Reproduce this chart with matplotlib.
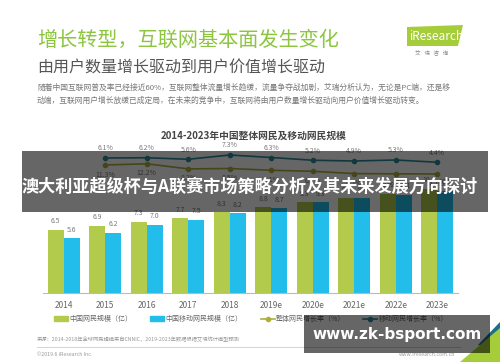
import matplotlib
matplotlib.use("Agg")
import numpy as np
import matplotlib.pyplot as plt
from matplotlib.patches import Rectangle, Polygon
from matplotlib.lines import Line2D

plt.rcParams['font.family'] = ['Noto Sans CJK SC', 'DejaVu Sans']

# data
years = ['2014', '2015', '2016', '2017', '2018', '2019e', '2020e', '2021e', '2022e', '2023e']
netizens = [6.5, 6.9, 7.3, 7.7, 8.3, 8.8, 9.3, 9.7, 10.2, 10.7]
mobile = [5.6, 6.2, 7.0, 7.5, 8.2, 8.7, 9.3, 9.7, 10.1, 10.5]
rate_top = [6.1, 6.2, 5.6, 7.3, 6.3, 5.2, 4.9, 5.3, 4.4]      # teal line, 2015-2023e
rate_low = [11.3, 12.2, 8.2, 8.5, 7.1, 6.3, 4.5, 4.3, 4.2]    # olive line, 2015-2023e

GREEN = '#B2CB4C'
BLUE = '#22BDEB'
TEAL = '#2B8C9A'
OLIVE = '#ABAE3C'
GREY = '#7a7a7a'

W, H = 500, 362
fig = plt.figure(figsize=(W / 100, H / 100), dpi=100)
fig.patch.set_facecolor('white')

def px(x, y):
    return x / W, 1 - y / H

# header
fig.text(*px(37, 40), '增长转型，互联网基本面发生变化', fontsize=14.5, color='#8CC63F',
         va='center', ha='left')
fig.text(*px(37, 68), '由用户数量增长驱动到用户价值增长驱动', fontsize=11.5, color='#555555',
         va='center', ha='left')
fig.text(*px(37, 88), '随着中国互联网普及率已经接近60%，互联网整体流量增长趋缓，流量争夺战加剧，艾瑞分析认为，无论是PC端，还是移',
         fontsize=5.6, color='#777777', va='center', ha='left')
fig.text(*px(37, 101), '动端，互联网用户增长放缓已成定局，在未来的竞争中，互联网将由用户数量增长驱动向用户价值增长驱动转变。',
         fontsize=5.6, color='#777777', va='center', ha='left')

# logo
logo = Polygon([px(407, 27), px(463, 25), px(458, 46), px(407, 46)], closed=True,
               transform=fig.transFigure, facecolor='#A5CD39', edgecolor='none')
fig.patches.append(logo)
fig.text(*px(409, 36), 'iResearch', fontsize=8.5, color='white', va='center', ha='left')
fig.text(*px(432, 52), '艾   瑞   咨   询', fontsize=4, color='#888888', va='center', ha='center')

# chart title
fig.text(*px(254, 136), '2014-2023年中国整体网民及移动网民规模', fontsize=7, fontweight='bold',
         color='#444444', va='center', ha='center')

# bars
ax = fig.add_axes([43 / W, 69 / H, 415 / W, 156 / H])
x = np.arange(len(years))
bw = 0.385
ax.bar(x - bw / 2, netizens, bw, color=GREEN, zorder=2)
ax.bar(x + bw / 2, mobile, bw, color=BLUE, zorder=2)
for xi, v in zip(x, netizens):
    ax.text(xi - bw / 2, v + 0.45, f'{v:.1f}', ha='center', va='bottom', fontsize=5, color=GREY)
for xi, v in zip(x, mobile):
    ax.text(xi + bw / 2, v + 0.45, f'{v:.1f}', ha='center', va='bottom', fontsize=5, color=GREY)
ax.set_xlim(-0.5, len(years) - 0.5)
ax.set_ylim(0, 16)
ax.set_xticks(x)
ax.set_xticklabels(years, fontsize=6, color='#666666')
ax.tick_params(axis='x', length=0, pad=6)
ax.set_yticks([])
for s in ['top', 'right', 'left']:
    ax.spines[s].set_visible(False)
ax.spines['bottom'].set_color('#bbbbbb')
ax.patch.set_alpha(0)

# growth lines on their own scales
xl = x[1:]
ax2 = ax.twinx()
ax2.plot(xl, rate_top, color=TEAL, lw=1.2, marker='o', ms=3, zorder=3)
for xi, v in zip(xl, rate_top):
    ax2.annotate(f'{v}%', (xi, v), xytext=(0, 4), textcoords='offset points',
                 ha='center', va='bottom', fontsize=5, color=GREY)
ax2.set_ylim(-47.9, 14.5)
ax3 = ax.twinx()
ax3.plot(xl, rate_low, color=OLIVE, lw=1.2, marker='o', ms=3, zorder=3)
for xi, v in zip(xl, rate_low):
    ax3.annotate(f'{v}%', (xi, v), xytext=(0, -4), textcoords='offset points',
                 ha='center', va='top', fontsize=5, color=GREY)
ax3.set_ylim(-89.5, 33.3)
for a in (ax2, ax3):
    a.set_yticks([])
    a.set_xlim(-0.5, len(years) - 0.5)
    for s in a.spines.values():
        s.set_visible(False)

# legend
handles = [
    Rectangle((0, 0), 1, 1, color=GREEN),
    Rectangle((0, 0), 1, 1, color=BLUE),
    Line2D([], [], color=OLIVE, lw=1.2, marker='o', ms=3),
    Line2D([], [], color=TEAL, lw=1.2, marker='o', ms=3),
]
labels = ['中国网民规模（亿）', '中国移动网民规模（亿）', '整体网民增长率（%）', '移动网民增长率（%）']
fig.legend(handles, labels, loc='center', bbox_to_anchor=px(251, 319), ncol=4, frameon=False,
           fontsize=5, labelcolor='#666666', handlelength=2.0, handleheight=0.6,
           columnspacing=2.6, handletextpad=0.2)

# footer
fig.text(*px(37, 339), '来源：2014-2018年全球网民规模来自CNNIC，2019-2023年数据根据艾瑞统计模型预测',
         fontsize=3.8, color='#999999', va='center', ha='left')
fig.add_artist(Line2D([37 / W, 460 / W], [1 - 347 / H] * 2, color='#cccccc', lw=0.6))
fig.text(*px(37, 354), '©2019.6 iResearch Inc.', fontsize=3.8, color='#999999', va='center', ha='left')
fig.text(*px(455, 354), 'www.iresearch.com.cn', fontsize=3.8, color='#999999', va='center', ha='right')
fig.patches.append(Polygon([px(478, 345), px(500, 322), px(500, 345)], closed=True,
                           transform=fig.transFigure, facecolor='#1E6F86', edgecolor='none'))
fig.patches.append(Polygon([px(460, 362), px(500, 328), px(500, 362)], closed=True,
                           transform=fig.transFigure, facecolor='#A5CD39', edgecolor='none'))

# overlay banners
fig.patches.append(Rectangle(px(22, 212), 466 / W, 61 / H, transform=fig.transFigure,
                             facecolor='black', alpha=0.6, edgecolor='none', zorder=10))
fig.text(*px(250, 187), '澳大利亚超级杯与A联赛市场策略分析及其未来发展方向探讨', fontsize=12.3,
         fontweight='bold', color='white', va='center', ha='center', zorder=11)
fig.patches.append(Rectangle(px(304, 353), 186 / W, 38 / H, transform=fig.transFigure,
                             facecolor='black', alpha=0.6, edgecolor='none', zorder=10))
fig.text(*px(397, 334), 'www.zk-bsport.com', fontsize=11, fontweight='bold', color='white',
         family=['DejaVu Sans'], va='center', ha='center', zorder=11)

fig.savefig('out.png', dpi=100)
